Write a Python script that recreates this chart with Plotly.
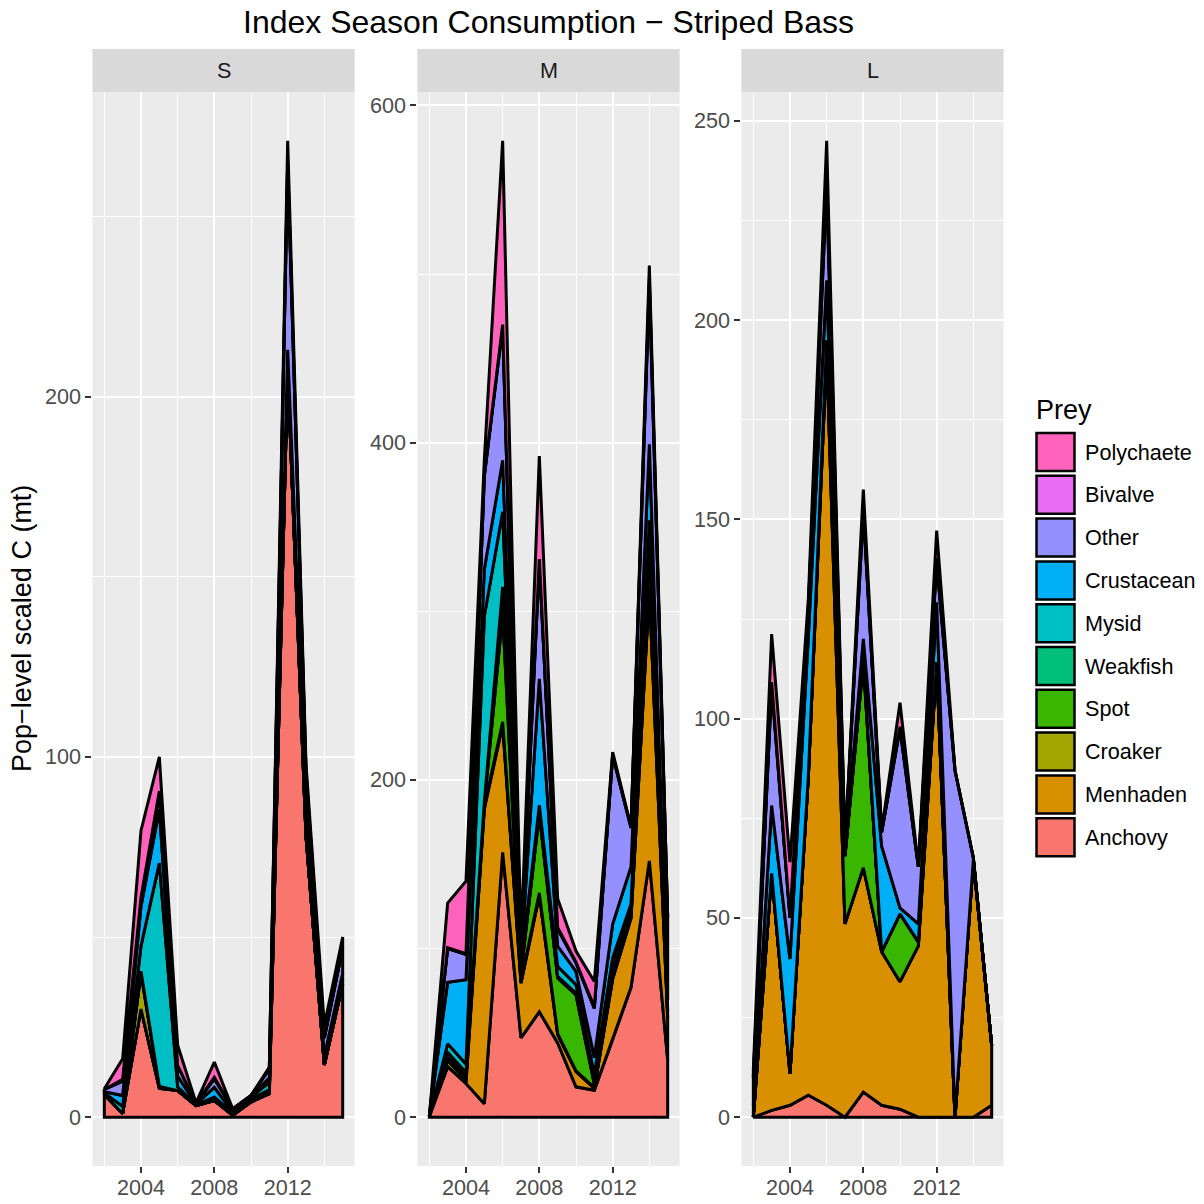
import plotly.graph_objects as go

# ---------------- data ----------------
years = list(range(2002, 2016))
prey_order = ["Anchovy", "Menhaden", "Croaker", "Spot", "Weakfish",
              "Mysid", "Crustacean", "Other", "Bivalve", "Polychaete"]
prey_colors = ["#F8766D", "#D89000", "#A3A500", "#39B600", "#00BF7D",
               "#00BFC4", "#00B0F6", "#9590FF", "#E76BF3", "#FF62BC"]
panels = ["S", "M", "L"]

# S panel
s_anchovy    = [6.3, 1, 30, 8, 7.4, 3.2, 4.6, 0.5, 4.2, 6.5, 208, 78, 14.5, 37]
s_menhaden   = [0, 0, 0, 0, 0, 0, 0, 0, 0, 0, 0, 0, 0, 0]
s_croaker    = [0, 0, 10, 0.5, 0, 0, 0, 0, 0.4, 0.8, 0, 0, 0, 0]
s_spot       = [0, 0, 0.5, 0, 0, 0, 0, 0.3, 0.6, 0.3, 0, 0, 0, 0]
s_weakfish   = [0, 0, 0, 0, 0, 0, 0, 0, 0, 0, 0, 0, 0, 0]
s_mysid      = [0.4, 2, 7, 62, 1, 0.2, 1, 0.3, 0.5, 2, 2, 3, 0.5, 1]
s_crustacean = [0.4, 3, 11, 15, 3, 0.2, 2.7, 0.3, 0.2, 1.3, 3, 8, 2, 2]
s_other      = [0.6, 4, 2, 4.5, 3, 0.2, 2.3, 0.9, 0.1, 2.5, 52, 7, 5, 7]
s_bivalve    = [0, 0.5, 0.5, 0.5, 0, 0, 0.5, 0, 0, 0, 0, 0, 0, 0]
s_polychaete = [0.2, 5.7, 18.5, 9.5, 5.6, 0.2, 4.2, 0, 0, 0.5, 6, 2, 3.5, 3]

# M panel
m_anchovy    = [0.5, 30, 20, 8, 157, 47, 62.5, 44, 18, 16, 46, 77, 152, 34]
m_menhaden   = [0, 0, 0.5, 175, 75.5, 32.5, 69, 5, 9, 1, 36, 41, 160, 25]
m_croaker    = [0, 3.5, 2, 1, 2, 1, 1.5, 0.5, 0.5, 0.5, 0.5, 0.5, 2, 0.5]
m_spot       = [0, 2, 2, 2, 64, 5, 47, 33, 45, 2, 3, 2, 25, 2]
m_weakfish   = [0, 3, 2, 1, 16, 1, 1, 1, 1, 1, 6, 3, 5, 1]
m_mysid      = [0, 5, 5, 110, 44.5, 3, 4, 6, 5, 5, 3, 3, 10, 1]
m_crustacean = [0, 36.5, 50, 28, 30.5, 5, 75, 12, 8, 10, 20, 22, 45, 6]
m_other      = [0, 20, 15, 55, 79.5, 5, 69, 10, 5, 29, 100, 23, 95, 49]
m_bivalve    = [0, 0.5, 0.5, 1, 1, 1, 2, 1, 0.5, 1, 0.5, 0.3, 3, 0.5]
m_polychaete = [0, 26.5, 43, 9, 109, 4, 61, 17, 6.5, 15, 1.5, 0.5, 8, 2]

# L panel
l_anchovy    = [0, 1.7, 3, 5.5, 3, 0, 6.3, 3, 2, 0, 0, 0, 0, 3]
l_menhaden   = [0, 59.5, 8, 80, 189, 48.5, 56.3, 38.5, 32, 43, 113.7, 0, 64.6, 15]
l_croaker    = [0, 0, 0, 0, 0, 0, 0, 0, 0, 0, 0, 0, 0, 0]
l_spot       = [0, 0, 0, 0, 2, 17, 51.4, 0, 17, 1, 0.5, 0, 0, 0]
l_weakfish   = [0, 0, 0, 0, 0, 0, 0.5, 0, 0, 0, 0, 0, 0, 0]
l_mysid      = [0, 0, 0, 0, 1, 0, 0.5, 0, 0, 0, 0, 0, 0, 0]
l_crustacean = [3, 17, 28.7, 35, 15, 1, 5, 26.5, 1.5, 4.5, 15, 0, 0, 0]
l_other      = [7, 30, 10.3, 7, 24, 1.5, 32, 3.5, 45, 14.3, 10, 87, 0.5, 0]
l_bivalve    = [0, 1, 0, 0, 3, 0, 1, 0, 0.5, 0, 1, 0, 0, 0]
l_polychaete = [2, 12, 14, 2.5, 8, 0, 4.5, 0.5, 6, 0.2, 7, 0, 0, 0]

panel_data = {
    "S": [s_anchovy, s_menhaden, s_croaker, s_spot, s_weakfish, s_mysid,
          s_crustacean, s_other, s_bivalve, s_polychaete],
    "M": [m_anchovy, m_menhaden, m_croaker, m_spot, m_weakfish, m_mysid,
          m_crustacean, m_other, m_bivalve, m_polychaete],
    "L": [l_anchovy, l_menhaden, l_croaker, l_spot, l_weakfish, l_mysid,
          l_crustacean, l_other, l_bivalve, l_polychaete],
}
y_dticks = {"S": 100, "M": 200, "L": 50}

# ---------------- layout helpers ----------------
W = H = 1204
def px(x):
    return x / W
def py(y):
    return 1 - y / H

panel_px = {"S": (92.4, 354.6), "M": (417.4, 679.6), "L": (741.4, 1003.6)}
panel_top, panel_bot = 92, 1166
strip_top = 49
FONT = "Liberation Sans, Arial, Helvetica, sans-serif"

fig = go.Figure()
layout = dict(
    width=W, height=H, template="none",
    margin=dict(l=0, r=0, t=0, b=0, pad=0),
    paper_bgcolor="white", plot_bgcolor="#EBEBEB",
    showlegend=False, font=dict(family=FONT, color="black"),
    shapes=[], annotations=[],
)

xr = [years[0] - 0.05 * (years[-1] - years[0]), years[-1] + 0.05 * (years[-1] - years[0])]

for i, p in enumerate(panels):
    sfx = "" if i == 0 else str(i + 1)
    xa, ya = "x" + sfx, "y" + sfx
    layers = panel_data[p]
    lower = [0.0] * len(years)
    for k, vals in enumerate(layers):
        upper = [a + b for a, b in zip(lower, vals)]
        xs = years + years[::-1] + [years[0]]
        ys = upper + lower[::-1] + [upper[0]]
        fig.add_trace(go.Scatter(
            x=xs, y=ys, mode="lines", fill="toself",
            fillcolor=prey_colors[k],
            line=dict(color="black", width=3),
            name=prey_order[k], xaxis=xa, yaxis=ya, hoverinfo="skip",
        ))
        lower = upper
    ymax = max(lower)
    yr = [-0.05 * ymax, ymax * 1.05]
    x0, x1 = panel_px[p]
    d = y_dticks[p]
    layout["xaxis" + sfx] = dict(
        domain=[px(x0), px(x1)], anchor=ya, range=xr, automargin=False,
        tick0=2004, dtick=4, showgrid=True, gridcolor="white", gridwidth=2.4,
        minor=dict(tick0=2002, dtick=2, showgrid=True, gridcolor="white", gridwidth=1.2),
        ticks="outside", ticklen=6, tickwidth=2, tickcolor="#333333",
        ticklabelstandoff=-4,
        tickfont=dict(size=21.6, color="#4D4D4D", family=FONT),
        showline=False, zeroline=False, fixedrange=True,
    )
    layout["yaxis" + sfx] = dict(
        domain=[py(panel_bot), py(panel_top)], anchor=xa, range=yr, automargin=False,
        tick0=0, dtick=d, showgrid=True, gridcolor="white", gridwidth=2.4,
        minor=dict(tick0=0, dtick=d / 2, showgrid=True, gridcolor="white", gridwidth=1.2),
        ticks="outside", ticklen=6, tickwidth=2, tickcolor="#333333",
        tickfont=dict(size=21.6, color="#4D4D4D", family=FONT),
        showline=False, zeroline=False, fixedrange=True,
    )
    # strip
    layout["shapes"].append(dict(
        type="rect", xref="paper", yref="paper",
        x0=px(x0), x1=px(x1), y0=py(panel_top), y1=py(strip_top),
        fillcolor="#D9D9D9", line=dict(width=0), layer="below"))
    layout["annotations"].append(dict(
        text=p, xref="paper", yref="paper", x=px((x0 + x1) / 2),
        y=py((panel_top + strip_top) / 2), xanchor="center", yanchor="middle",
        showarrow=False, font=dict(size=21.6, color="#1A1A1A", family=FONT)))

# title
layout["annotations"].append(dict(
    text="Index Season Consumption \u2212 Striped Bass", xref="paper", yref="paper",
    x=px((92.4 + 1003.6) / 2), y=py(22), xanchor="center", yanchor="middle",
    showarrow=False, font=dict(size=32, color="black", family=FONT)))
# y axis title
layout["annotations"].append(dict(
    text="Pop\u2212level scaled C (mt)", xref="paper", yref="paper",
    x=px(22), y=py((panel_top + panel_bot) / 2), xanchor="center", yanchor="middle",
    textangle=-90, showarrow=False, font=dict(size=27, color="black", family=FONT)))

# legend (manual, Polychaete on top)
layout["annotations"].append(dict(
    text="Prey", xref="paper", yref="paper", x=px(1034), y=py(410),
    xanchor="left", yanchor="middle", showarrow=False,
    font=dict(size=27, color="black", family=FONT)))
leg_names = prey_order[::-1]
leg_cols = prey_colors[::-1]
for j, (nm, col) in enumerate(zip(leg_names, leg_cols)):
    yc = 452 + j * 42.8
    layout["shapes"].append(dict(
        type="rect", xref="paper", yref="paper",
        x0=px(1036.5), x1=px(1074.5), y0=py(yc + 19), y1=py(yc - 19),
        fillcolor=col, line=dict(color="black", width=2.5)))
    layout["annotations"].append(dict(
        text=nm, xref="paper", yref="paper", x=px(1083), y=py(yc),
        xanchor="left", yanchor="middle", showarrow=False,
        font=dict(size=21.6, color="black", family=FONT)))

fig.update_layout(**layout)
fig.write_html("out.html")
